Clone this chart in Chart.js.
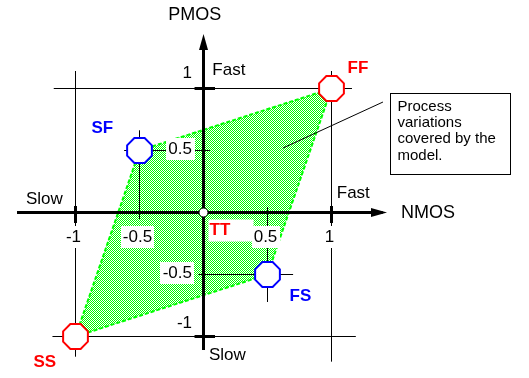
<!DOCTYPE html>
<html>
<head>
<meta charset="utf-8">
<style>
  html, body { margin: 0; padding: 0; background: #fff; }
  #chart { display: block; }
</style>
</head>
<body>
<canvas id="chart" width="529" height="378"></canvas>
<script src="https://cdn.jsdelivr.net/npm/chart.js@4/dist/chart.umd.min.js"></script>
<script>
(function () {
  'use strict';

  // process corners: NMOS speed on x, PMOS speed on y
  var cornerNames = ['SS', 'SF', 'FF', 'FS'];
  var cornerX = [-1, -0.5, 1, 0.5];
  var cornerY = [-1, 0.5, 1, -0.5];
  var cornerColors = ['#ff0000', '#0000ff', '#ff0000', '#0000ff'];
  var typical = { name: 'TT', x: 0, y: 0 };

  var xTicks = [-1, -0.5, 0.5, 1];
  var yTicks = [1, 0.5, -0.5, -1];
  var xTickLabels = ['-1', '-0.5', '0.5', '1'];
  var yTickLabels = ['1', '0.5', '-0.5', '-1'];

  var noteLines = ['Process', 'variations', 'covered by the', 'model.'];

  // thin guide lines [x1, y1, x2, y2]
  var guides = [
    [-1.17, 1, 1.16, 1],
    [-1.18, -1, 1.19, -1],
    [-1, 1.14, -1, -1.16],
    [1, 1.14, 1, -1.2],
    [-0.5, 0.66, -0.5, -0.05],
    [-0.62, 0.5, 0.05, 0.5],
    [0.5, 0.04, 0.5, -0.72],
    [-0.04, -0.5, 0.7, -0.5],
    [0.621, 0.52, 1.402, 0.891]
  ];
  // thick marks on the axes
  var marks = [
    [-1, 0.052, -1, -0.085],
    [1, 0.052, 1, -0.085],
    [-0.07, 1, 0.09, 1],
    [-0.07, -1, 0.09, -1]
  ];
  var xAxisSpan = [-1.457, 1.4];
  var yAxisSpan = [-1.109, 1.36];

  // text placed in data space: [text, x, y, size]
  var words = [
    ['PMOS', -0.275, 1.593, 18],
    ['NMOS', 1.543, -0.006, 18],
    ['Fast', 0.069, 1.144, 17],
    ['Slow', 0.043, -1.149, 17],
    ['Slow', -1.387, 0.109, 17],
    ['Fast', 1.041, 0.155, 17]
  ];
  var cornerLabelOffset = [[-42, 26], [-48, -22], [16, -20], [22, 22]];
  var noteBox = [1.457, 0.964, 2.395, 0.31];

  var FONT = 'Arial, "Liberation Sans", sans-serif';

  function octagon(color) {
    var c = document.createElement('canvas');
    c.width = 31; c.height = 31;
    var g = c.getContext('2d');
    g.beginPath();
    for (var i = 0; i < 8; i++) {
      var a = Math.PI / 8 + i * Math.PI / 4;
      var px = 15.5 + 13.4 * Math.cos(a), py = 15.5 + 13.4 * Math.sin(a);
      if (i === 0) g.moveTo(px, py); else g.lineTo(px, py);
    }
    g.closePath();
    g.fillStyle = '#fff';
    g.fill();
    g.lineWidth = 2;
    g.strokeStyle = color;
    g.stroke();
    return c;
  }

  function arrow(horizontal) {
    var c = document.createElement('canvas');
    c.width = horizontal ? 16 : 9;
    c.height = horizontal ? 9 : 16;
    var g = c.getContext('2d');
    g.beginPath();
    if (horizontal) {
      g.moveTo(0, 0); g.lineTo(16, 4.5); g.lineTo(0, 9);
    } else {
      g.moveTo(0, 16); g.lineTo(4.5, 0); g.lineTo(9, 16);
    }
    g.closePath();
    g.fillStyle = '#000';
    g.fill();
    return c;
  }

  function segment(s, width, order) {
    return {
      data: [{ x: s[0], y: s[1] }, { x: s[2], y: s[3] }],
      showLine: true,
      borderColor: '#000',
      borderWidth: width,
      pointRadius: 0,
      order: order
    };
  }

  var canvas = document.getElementById('chart');
  var ctx = canvas.getContext('2d');

  var pc = document.createElement('canvas');
  pc.width = 2; pc.height = 2;
  var pg = pc.getContext('2d');
  pg.fillStyle = '#fff';
  pg.fillRect(0, 0, 2, 2);
  pg.fillStyle = '#00ff00';
  pg.fillRect(0, 0, 1, 1);
  pg.fillRect(1, 1, 1, 1);
  var dither = ctx.createPattern(pc, 'repeat');

  var cornerPts = cornerX.map(function (x, i) { return { x: x, y: cornerY[i] }; });

  var datasets = [];
  datasets.push({
    data: cornerPts.concat([cornerPts[0]]),
    showLine: true,
    fill: 'shape',
    backgroundColor: dither,
    borderColor: '#00ff00',
    borderWidth: 2,
    borderDash: [4, 2],
    pointRadius: 0,
    order: 10
  });
  guides.forEach(function (s) { datasets.push(segment(s, 1, 8)); });
  marks.forEach(function (s) { datasets.push(segment(s, 3, 6)); });
  datasets.push(segment([xAxisSpan[0], 0, xAxisSpan[1], 0], 3, 6));
  datasets.push(segment([0, yAxisSpan[0], 0, yAxisSpan[1]], 3, 6));
  datasets.push({
    data: [{ x: 1.37109375, y: 0 }, { x: 0, y: 1.375 }],
    pointStyle: [arrow(true), arrow(false)],
    pointRadius: 8,
    order: 4
  });
  datasets.push({
    data: cornerPts,
    pointStyle: cornerColors.map(octagon),
    pointRadius: 14,
    order: 2
  });
  datasets.push({
    data: [{ x: typical.x, y: typical.y }],
    pointStyle: 'circle',
    pointRadius: 4.5,
    backgroundColor: '#fff',
    borderColor: '#000',
    borderWidth: 1,
    order: 1
  });

  function boxedText(c, text, cx, cy, color, font, pad) {
    c.font = font;
    var w = c.measureText(text).width;
    c.fillStyle = '#fff';
    c.fillRect(Math.round(cx - w / 2 - pad), Math.round(cy - 11), Math.round(w + 2 * pad), 22);
    c.fillStyle = color;
    c.fillText(text, cx, cy);
  }

  var labelPlugin = {
    id: 'cornerLabels',
    afterDatasetsDraw: function (chart) {
      var c = chart.ctx, xs = chart.scales.x, ys = chart.scales.y;
      var ox = xs.getPixelForValue(0), oy = ys.getPixelForValue(0);
      c.save();
      c.textBaseline = 'middle';

      // tick labels on white boxes
      c.textAlign = 'center';
      xTicks.forEach(function (v, i) {
        boxedText(c, xTickLabels[i], xs.getPixelForValue(v) - 2, oy + 25, '#000', '17px ' + FONT, 2);
      });
      var yOff = [-15, -1.5, -1.5, -13];
      yTicks.forEach(function (v, i) {
        c.font = '17px ' + FONT;
        var w = c.measureText(yTickLabels[i]).width;
        boxedText(c, yTickLabels[i], ox - 11.5 - w / 2, ys.getPixelForValue(v) + yOff[i], '#000', '17px ' + FONT, 2.5);
      });

      // typical corner label
      c.textAlign = 'left';
      c.fillStyle = '#fff';
      c.fillRect(ox + 5, oy + 7, 45, 22);
      c.font = 'bold 17px ' + FONT;
      c.fillStyle = '#ff0000';
      c.fillText(typical.name, ox + 6, oy + 18);

      cornerNames.forEach(function (n, i) {
        c.fillStyle = cornerColors[i];
        c.fillText(n, xs.getPixelForValue(cornerX[i]) + cornerLabelOffset[i][0],
          ys.getPixelForValue(cornerY[i]) + cornerLabelOffset[i][1]);
      });

      c.fillStyle = '#000';
      words.forEach(function (w) {
        c.font = w[3] + 'px ' + FONT;
        c.fillText(w[0], xs.getPixelForValue(w[1]), ys.getPixelForValue(w[2]));
      });

      // note box
      var bx1 = Math.round(xs.getPixelForValue(noteBox[0])) + 0.5;
      var by1 = Math.round(ys.getPixelForValue(noteBox[1])) + 0.5;
      var bx2 = Math.round(xs.getPixelForValue(noteBox[2])) + 0.5;
      var by2 = Math.round(ys.getPixelForValue(noteBox[3])) + 0.5;
      c.fillStyle = '#fff';
      c.fillRect(bx1, by1, bx2 - bx1, by2 - by1);
      c.strokeStyle = '#000';
      c.lineWidth = 1;
      c.strokeRect(bx1, by1, bx2 - bx1, by2 - by1);
      c.fillStyle = '#000';
      c.font = '15px ' + FONT;
      noteLines.forEach(function (t, i) {
        c.fillText(t, bx1 + 7, by1 + 13 + i * 16.3);
      });
      c.restore();
    }
  };

  new Chart(ctx, {
    type: 'scatter',
    data: { datasets: datasets },
    options: {
      responsive: false,
      animation: false,
      events: [],
      layout: { padding: 0, autoPadding: false },
      plugins: {
        legend: { display: false },
        tooltip: { enabled: false }
      },
      scales: {
        x: { type: 'linear', display: false, min: -203.5 / 128, max: (529 - 203.5) / 128 },
        y: { type: 'linear', display: false, min: (212.5 - 378) / 124, max: 212.5 / 124 }
      }
    },
    plugins: [labelPlugin]
  });
})();
</script>
</body>
</html>
